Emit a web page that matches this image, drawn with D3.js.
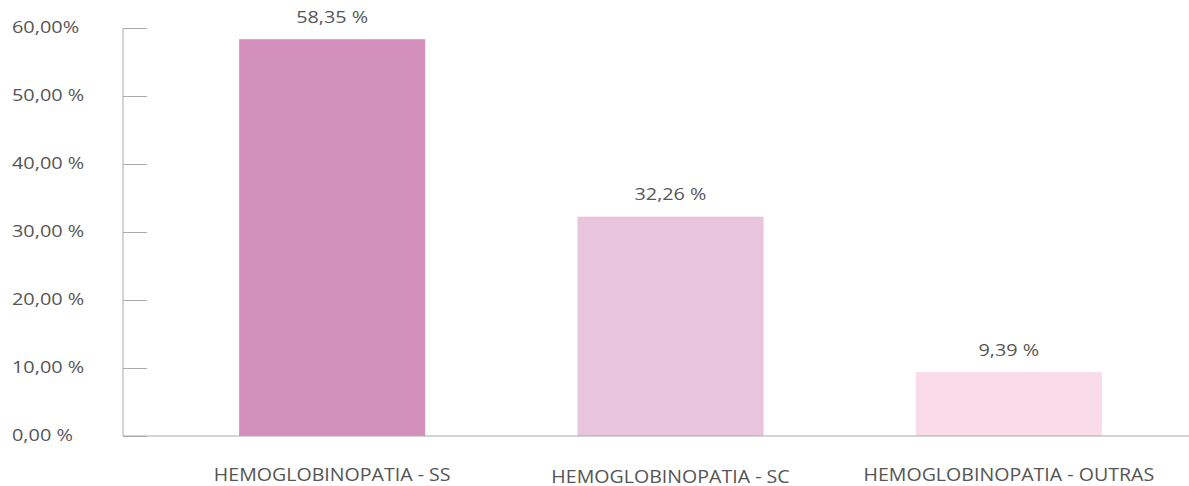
<!DOCTYPE html>
<html>
<head>
<meta charset="utf-8">
<script src="https://cdn.jsdelivr.net/npm/d3@7"></script>
<style>
    body { margin: 0; background: #fff; }
    text { font-family: "Open Sans", "DejaVu Sans", sans-serif; fill: #555; }
</style>
</head>
<body>
<div id="chart"></div>
<script>
// Chart data
var categories = ["HEMOGLOBINOPATIA - SS", "HEMOGLOBINOPATIA - SC", "HEMOGLOBINOPATIA - OUTRAS"];
var values = [58.35, 32.26, 9.39];
var valueLabels = ["58,35 %", "32,26 %", "9,39 %"];
var tickValues = [0, 10, 20, 30, 40, 50, 60];
var tickLabels = ["0,00 %", "10,00 %", "20,00 %", "30,00 %", "40,00 %", "50,00 %", "60,00%"];
var barColours = ["#d490bd", "#e8c5dd", "#fadbe8"];

var width = 1189, height = 486;

var svg = d3.select("#chart")
    .append("svg")
    .attr("width", width)
    .attr("height", height);

// Scales
var xScale = d3.scaleBand()
    .domain(categories)
    .range([163, 1178])
    .paddingInner(0.45)
    .paddingOuter(0.225);

var yScale = d3.scaleLinear()
    .domain([0, 60])
    .range([436, 28]);

// Text in the original is a bit wider than it is tall, so stretch it horizontally
function stretched(x, y, sx) {
    return "translate(" + x + "," + y + ") scale(" + sx + ",1)";
}

// Bars
svg.selectAll("rect.bar")
    .data(values)
    .enter()
    .append("rect")
    .attr("class", "bar")
    .attr("x", function (d, i) { return xScale(categories[i]); })
    .attr("y", function (d) { return yScale(d); })
    .attr("width", xScale.bandwidth())
    .attr("height", function (d) { return yScale(0) - yScale(d); })
    .style("fill", function (d, i) { return barColours[i]; });

// Value labels above bars
svg.selectAll("text.value")
    .data(values)
    .enter()
    .append("text")
    .attr("class", "value")
    .attr("transform", function (d, i) {
        return stretched(xScale(categories[i]) + xScale.bandwidth() / 2, yScale(d) - 16.5, 1.2);
    })
    .attr("text-anchor", "middle")
    .style("font-size", "16.5px")
    .text(function (d, i) { return valueLabels[i]; });

// Y axis: ticks point into the plot, labels drawn on the far left
var yAxis = svg.append("g")
    .attr("transform", "translate(123,0)")
    .call(d3.axisRight(yScale).tickValues(tickValues).tickSize(24).tickFormat(""));
yAxis.select(".domain").attr("stroke", "#aaa").attr("d", "M0," + yScale(60) + "V" + yScale(0));
yAxis.selectAll(".tick line").attr("stroke", "#aaa");

svg.selectAll("text.ytick")
    .data(tickValues)
    .enter()
    .append("text")
    .attr("class", "ytick")
    .attr("transform", function (d) { return stretched(12, yScale(d) + 4.5, 1.17); })
    .style("font-size", "17px")
    .text(function (d, i) { return tickLabels[i]; });

// X axis baseline
svg.append("line")
    .attr("x1", 123)
    .attr("x2", width)
    .attr("y1", yScale(0))
    .attr("y2", yScale(0))
    .attr("stroke", "#aaa");

// Category labels
svg.selectAll("text.cat")
    .data(categories)
    .enter()
    .append("text")
    .attr("class", "cat")
    .attr("transform", function (d, i) {
        return stretched(xScale(d) + xScale.bandwidth() / 2, i == 1 ? 482.5 : 481, 1.12);
    })
    .attr("text-anchor", "middle")
    .style("font-size", "17.5px")
    .text(function (d) { return d; });
</script>
</body>
</html>
